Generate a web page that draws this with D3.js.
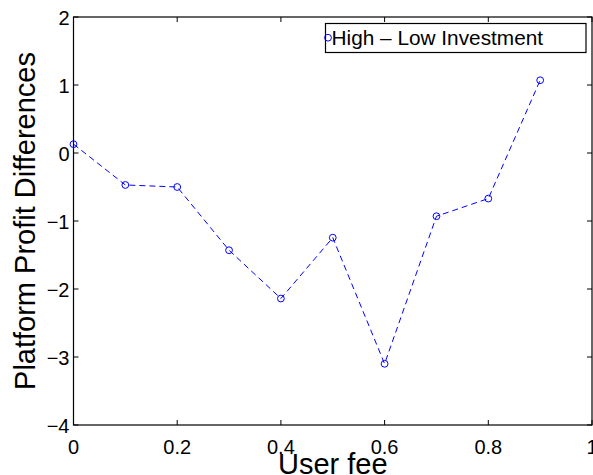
<!DOCTYPE html>
<html>
<head>
<meta charset="utf-8">
<script src="https://cdn.jsdelivr.net/npm/d3@7"></script>
<style>
  html, body { margin: 0; padding: 0; background: #fff; }
  svg { display: block; font-family: "Liberation Sans", Arial, sans-serif; }
</style>
</head>
<body>
<svg id="main_chart" width="593" height="475"></svg>
<script>
(function() {
  const user_fee = [0, 0.1, 0.2, 0.3, 0.4, 0.5, 0.6, 0.7, 0.8, 0.9];
  const profit_diff = [0.13, -0.47, -0.50, -1.43, -2.14, -1.245, -3.10, -0.93, -0.67, 1.07];
  const x_ticks = [0, 0.2, 0.4, 0.6, 0.8, 1];
  const y_ticks = [-4, -3, -2, -1, 0, 1, 2];
  const series_name = 'High \u2013 Low Investment';

  const svg = d3.select('#main_chart');
  const left = 73.5, right = 592, top = 17, bottom = 425;
  const xScale = d3.scaleLinear().domain([0, 1]).range([left, right]);
  const yScale = d3.scaleLinear().domain([-4, 2]).range([bottom, top]);
  const tickLen = 5;

  // ticks on all four sides, pointing inwards
  const axes = svg.append('g').attr('id', 'axes');
  axes.selectAll('line.xt_bottom').data(x_ticks).enter().append('line')
    .attr('x1', d => xScale(d)).attr('x2', d => xScale(d))
    .attr('y1', bottom).attr('y2', bottom - tickLen)
    .attr('stroke', '#000');
  axes.selectAll('line.xt_top').data(x_ticks).enter().append('line')
    .attr('x1', d => xScale(d)).attr('x2', d => xScale(d))
    .attr('y1', top).attr('y2', top + tickLen)
    .attr('stroke', '#000');
  axes.selectAll('line.yt_left').data(y_ticks).enter().append('line')
    .attr('x1', left).attr('x2', left + tickLen)
    .attr('y1', d => yScale(d)).attr('y2', d => yScale(d))
    .attr('stroke', '#000');
  axes.selectAll('line.yt_right').data(y_ticks).enter().append('line')
    .attr('x1', right).attr('x2', right - tickLen)
    .attr('y1', d => yScale(d)).attr('y2', d => yScale(d))
    .attr('stroke', '#000');
  axes.append('rect')
    .attr('x', left).attr('y', top)
    .attr('width', right - left).attr('height', bottom - top)
    .attr('fill', 'none').attr('stroke', '#000').attr('stroke-width', 1.2);

  const fmt = d3.format('');
  axes.selectAll('text.x_label').data(x_ticks).enter().append('text')
    .attr('x', d => xScale(d)).attr('y', 453.5)
    .attr('text-anchor', 'middle').attr('font-size', 20)
    .text(d => fmt(d));
  axes.selectAll('text.y_label').data(y_ticks).enter().append('text')
    .attr('x', 69.5).attr('y', d => yScale(d) + 8)
    .attr('text-anchor', 'end').attr('font-size', 20)
    .text(d => fmt(d));

  svg.append('text')
    .attr('x', (left + right) / 2).attr('y', 474)
    .attr('text-anchor', 'middle').attr('font-size', 29)
    .text('User fee');
  svg.append('text')
    .attr('transform', 'translate(35,' + ((top + bottom) / 2) + ') rotate(-90)')
    .attr('text-anchor', 'middle').attr('font-size', 29)
    .text('Platform Profit Differences');

  // series
  const pts = user_fee.map((d, i) => [d, profit_diff[i]]);
  const line = d3.line().x(d => xScale(d[0])).y(d => yScale(d[1]));
  svg.append('path').datum(pts)
    .attr('d', line).attr('fill', 'none')
    .attr('stroke', '#0000ff').attr('stroke-width', 1)
    .attr('stroke-dasharray', '6,4');
  svg.selectAll('circle.pt').data(pts).enter().append('circle')
    .attr('class', 'pt')
    .attr('cx', d => xScale(d[0])).attr('cy', d => yScale(d[1]))
    .attr('r', 3.4).attr('fill', 'none')
    .attr('stroke', '#0000ff').attr('stroke-width', 1);

  // legend
  const lg = svg.append('g').attr('id', 'legend');
  lg.append('rect')
    .attr('x', 325.5).attr('y', 23.5).attr('width', 260.5).attr('height', 29)
    .attr('fill', '#fff').attr('stroke', '#000').attr('stroke-width', 1.2);
  lg.append('circle')
    .attr('cx', 328).attr('cy', 37.7).attr('r', 3.4)
    .attr('fill', 'none').attr('stroke', '#0000ff');
  lg.append('text')
    .attr('x', 331.5).attr('y', 45)
    .attr('font-size', 20.8)
    .text(series_name);
}());
</script>
</body>
</html>
